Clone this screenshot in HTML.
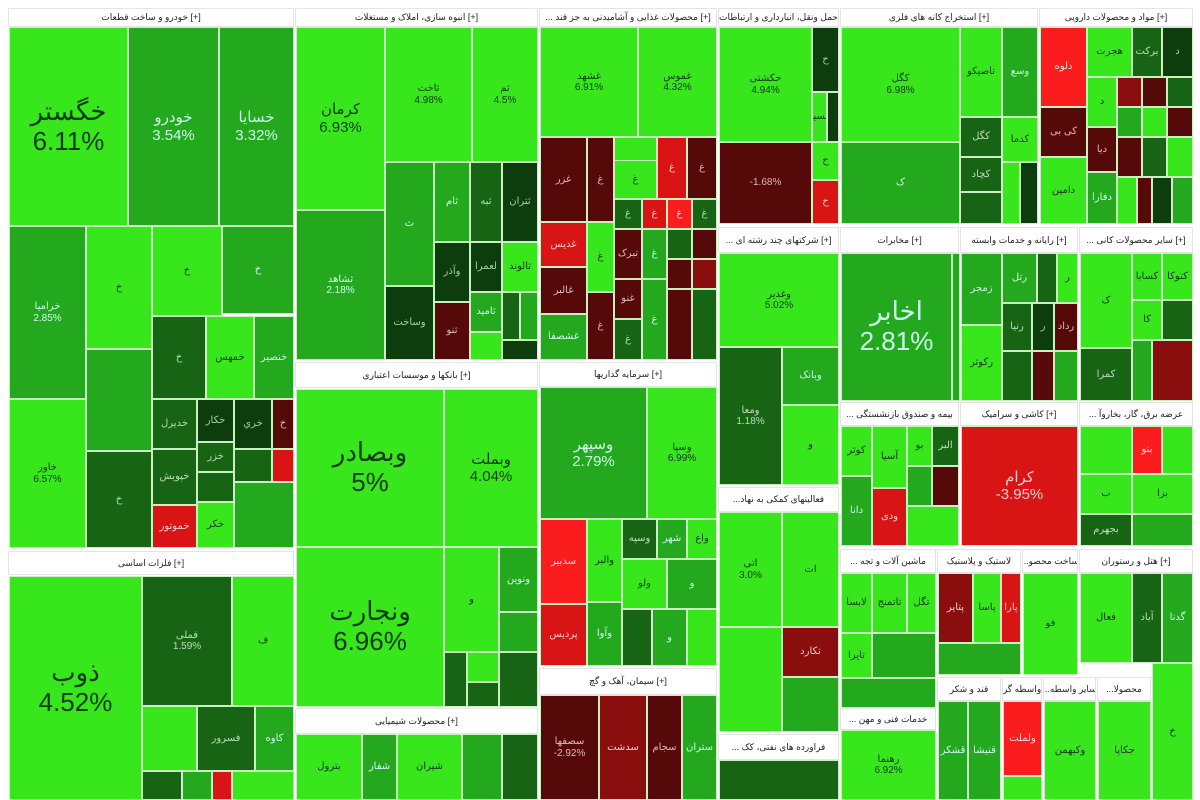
<!DOCTYPE html>
<html><head><meta charset="utf-8"><style>
body{margin:0;width:1200px;height:800px;overflow:hidden;background:#fff;position:relative;font-family:"Liberation Sans","DejaVu Sans",sans-serif}
div{position:absolute;box-sizing:border-box;border:1px solid #c8f0c0;display:flex;align-items:center;justify-content:center;text-align:center;overflow:hidden;font-size:10px;line-height:1.15;color:#0a3a0a}
.h{background:#fff;border:1px solid #e4e4e4;font-size:9px;color:#222;white-space:nowrap}
.b{background:#38e61c}.m{background:#24a81e;color:#cfe}.d{background:#176414;color:#bdb}.v{background:#0d3d0c;color:#aca}
.r{background:#d81414;color:#fcc}.R{background:#fb1d1d;color:#fdd}.x{background:#560909;color:#dbb}.y{background:#8a0e0e;color:#ecc}
.big{font-size:26px}.mid{font-size:15px}
</style></head><body>
<!-- Sector A -->
<div class="h" style="left:8px;top:8px;width:286px;height:19px">خودرو و ساخت قطعات [+]</div>
<div class="b big" style="left:9px;top:27px;width:119px;height:199px">خگستر<br>6.11%</div>
<div class="m mid" style="left:128px;top:27px;width:91px;height:199px">خودرو<br>3.54%</div>
<div class="m mid" style="left:219px;top:27px;width:75px;height:199px">خسایا<br>3.32%</div>
<div class="m" style="left:9px;top:226px;width:77px;height:173px">خرامیا<br>2.85%</div>
<div class="b" style="left:9px;top:399px;width:77px;height:149px">خاور<br>6.57%</div>
<div class="b" style="left:86px;top:226px;width:66px;height:123px">خ</div>
<div class="m" style="left:86px;top:349px;width:66px;height:102px"></div>
<div class="d" style="left:86px;top:451px;width:66px;height:97px">خ</div>
<div class="b" style="left:152px;top:226px;width:70px;height:90px">خ</div>
<div class="m" style="left:222px;top:226px;width:72px;height:88px">خ</div>
<div class="d" style="left:152px;top:316px;width:54px;height:83px">خ</div>
<div class="b" style="left:206px;top:316px;width:48px;height:83px">خمهس</div>
<div class="m" style="left:254px;top:316px;width:40px;height:83px">خنصير</div>
<div class="d" style="left:152px;top:399px;width:45px;height:50px">خديرل</div>
<div class="d" style="left:152px;top:449px;width:45px;height:56px">خپويش</div>
<div class="r" style="left:152px;top:505px;width:45px;height:43px">خموتور</div>
<div class="v" style="left:197px;top:399px;width:37px;height:43px">خكار</div>
<div class="d" style="left:197px;top:442px;width:37px;height:30px">خزر</div>
<div class="d" style="left:197px;top:472px;width:37px;height:30px"></div>
<div class="b" style="left:197px;top:502px;width:37px;height:46px">خكر</div>
<div class="v" style="left:234px;top:399px;width:38px;height:50px">خري</div>
<div class="x" style="left:272px;top:399px;width:22px;height:50px">خ</div>
<div class="d" style="left:234px;top:449px;width:38px;height:33px"></div>
<div class="r" style="left:272px;top:449px;width:22px;height:33px"></div>
<div class="m" style="left:234px;top:482px;width:60px;height:66px"></div>
<div class="h" style="left:8px;top:551px;width:286px;height:24px">فلزات اساسی [+]</div>
<div class="b big" style="left:9px;top:576px;width:133px;height:224px">ذوب<br>4.52%</div>
<div class="d" style="left:142px;top:576px;width:90px;height:130px">فملی<br>1.59%</div>
<div class="b" style="left:232px;top:576px;width:62px;height:130px">ف</div>
<div class="b" style="left:142px;top:706px;width:55px;height:65px"></div>
<div class="d" style="left:197px;top:706px;width:58px;height:65px">فسرور</div>
<div class="m" style="left:255px;top:706px;width:39px;height:65px">کاوه</div>
<div class="d" style="left:142px;top:771px;width:40px;height:29px"></div>
<div class="m" style="left:182px;top:771px;width:30px;height:29px"></div>
<div class="r" style="left:212px;top:771px;width:20px;height:29px"></div>
<div class="b" style="left:232px;top:771px;width:62px;height:29px"></div>
<!-- Sector B -->
<div class="h" style="left:295px;top:8px;width:243px;height:19px">انبوه سازی، املاک و مستغلات [+]</div>
<div class="b mid" style="left:296px;top:27px;width:89px;height:183px">کرمان<br>6.93%</div>
<div class="b" style="left:385px;top:27px;width:87px;height:135px">ثاخت<br>4.98%</div>
<div class="b" style="left:472px;top:27px;width:66px;height:135px">ثم<br>4.5%</div>
<div class="m" style="left:296px;top:210px;width:89px;height:150px">ثشاهد<br>2.18%</div>
<div class="m" style="left:385px;top:162px;width:49px;height:124px">ث</div>
<div class="v" style="left:385px;top:286px;width:49px;height:74px">وساخت</div>
<div class="m" style="left:434px;top:162px;width:36px;height:80px">ثام</div>
<div class="d" style="left:470px;top:162px;width:32px;height:80px">ثبه</div>
<div class="v" style="left:502px;top:162px;width:36px;height:80px">ثتران</div>
<div class="v" style="left:434px;top:242px;width:36px;height:60px">وآذر</div>
<div class="x" style="left:434px;top:302px;width:36px;height:58px">ثنو</div>
<div class="v" style="left:470px;top:242px;width:32px;height:50px">لعمرا</div>
<div class="m" style="left:470px;top:292px;width:32px;height:40px">ثامید</div>
<div class="b" style="left:470px;top:332px;width:32px;height:28px"></div>
<div class="b" style="left:502px;top:242px;width:36px;height:50px">ثالوند</div>
<div class="d" style="left:502px;top:292px;width:18px;height:48px"></div>
<div class="m" style="left:520px;top:292px;width:18px;height:48px"></div>
<div class="v" style="left:502px;top:340px;width:36px;height:20px"></div>
<div class="h" style="left:295px;top:362px;width:243px;height:26px">بانكها و موسسات اعتباری [+]</div>
<div class="b big" style="left:296px;top:389px;width:148px;height:158px">وبصادر<br>5%</div>
<div class="b mid" style="left:444px;top:389px;width:94px;height:158px">وبملت<br>4.04%</div>
<div class="b big" style="left:296px;top:547px;width:148px;height:160px">ونجارت<br>6.96%</div>
<div class="b" style="left:444px;top:547px;width:55px;height:105px">و</div>
<div class="m" style="left:499px;top:547px;width:39px;height:65px">ونوين</div>
<div class="m" style="left:499px;top:612px;width:39px;height:40px"></div>
<div class="d" style="left:444px;top:652px;width:23px;height:55px"></div>
<div class="b" style="left:467px;top:652px;width:32px;height:30px"></div>
<div class="d" style="left:467px;top:682px;width:32px;height:25px"></div>
<div class="d" style="left:499px;top:652px;width:39px;height:55px"></div>
<div class="h" style="left:295px;top:708px;width:243px;height:26px">محصولات شیمیایی [+]</div>
<div class="b" style="left:296px;top:734px;width:66px;height:66px">بترول</div>
<div class="m" style="left:362px;top:734px;width:35px;height:66px">شفار</div>
<div class="b" style="left:397px;top:734px;width:65px;height:66px">شيران</div>
<div class="m" style="left:462px;top:734px;width:40px;height:66px"></div>
<div class="d" style="left:502px;top:734px;width:36px;height:66px"></div>
<!-- Sector C -->
<div class="h" style="left:539px;top:8px;width:178px;height:19px">... محصولات غذایی و آشامیدنی به جز قند [+]</div>
<div class="b" style="left:540px;top:27px;width:98px;height:110px">غشهد<br>6.91%</div>
<div class="b" style="left:638px;top:27px;width:79px;height:110px">غموس<br>4.32%</div>
<div class="x" style="left:540px;top:137px;width:47px;height:85px">غزر</div>
<div class="r" style="left:540px;top:222px;width:47px;height:45px">غدیس</div>
<div class="x" style="left:540px;top:267px;width:47px;height:47px">غالبر</div>
<div class="m" style="left:540px;top:314px;width:47px;height:46px">غشصفا</div>
<div class="x" style="left:587px;top:137px;width:27px;height:85px">غ</div>
<div class="b" style="left:614px;top:137px;width:43px;height:62px">غبهنار</div>
<div class="r" style="left:657px;top:137px;width:30px;height:62px">غ</div>
<div class="x" style="left:687px;top:137px;width:30px;height:62px">غ</div>
<div class="b" style="left:614px;top:160px;width:43px;height:39px">غ</div>
<div class="d" style="left:614px;top:199px;width:28px;height:30px">غ</div>
<div class="r" style="left:642px;top:199px;width:25px;height:30px">غ</div>
<div class="R" style="left:667px;top:199px;width:25px;height:30px">غ</div>
<div class="d" style="left:692px;top:199px;width:25px;height:30px">غ</div>
<div class="b" style="left:587px;top:222px;width:27px;height:70px">غ</div>
<div class="x" style="left:614px;top:229px;width:28px;height:50px">تبرک</div>
<div class="m" style="left:642px;top:229px;width:25px;height:50px">غ</div>
<div class="d" style="left:667px;top:229px;width:25px;height:30px"></div>
<div class="x" style="left:692px;top:229px;width:25px;height:30px"></div>
<div class="x" style="left:667px;top:259px;width:25px;height:30px"></div>
<div class="y" style="left:692px;top:259px;width:25px;height:30px"></div>
<div class="x" style="left:587px;top:292px;width:27px;height:68px">غ</div>
<div class="x" style="left:614px;top:279px;width:28px;height:40px">غنو</div>
<div class="d" style="left:614px;top:319px;width:28px;height:41px">غ</div>
<div class="m" style="left:642px;top:279px;width:25px;height:81px">غ</div>
<div class="x" style="left:667px;top:289px;width:25px;height:71px"></div>
<div class="d" style="left:692px;top:289px;width:25px;height:71px"></div>
<div class="h" style="left:539px;top:362px;width:178px;height:25px">سرمایه گذاریها [+]</div>
<div class="m mid" style="left:540px;top:387px;width:107px;height:132px">وسپهر<br>2.79%</div>
<div class="b" style="left:647px;top:387px;width:70px;height:132px">وسپا<br>6.99%</div>
<div class="R" style="left:540px;top:519px;width:47px;height:85px">سدبیر</div>
<div class="r" style="left:540px;top:604px;width:47px;height:62px">پردیس</div>
<div class="b" style="left:587px;top:519px;width:35px;height:83px">والبر</div>
<div class="d" style="left:622px;top:519px;width:35px;height:40px">وسپه</div>
<div class="m" style="left:657px;top:519px;width:30px;height:40px">شهر</div>
<div class="b" style="left:687px;top:519px;width:30px;height:40px">واع</div>
<div class="b" style="left:622px;top:559px;width:45px;height:50px">ولو</div>
<div class="m" style="left:667px;top:559px;width:50px;height:50px">و</div>
<div class="m" style="left:587px;top:602px;width:35px;height:64px">وآوا</div>
<div class="d" style="left:622px;top:609px;width:30px;height:57px"></div>
<div class="m" style="left:652px;top:609px;width:35px;height:57px">و</div>
<div class="b" style="left:687px;top:609px;width:30px;height:57px"></div>
<div class="h" style="left:539px;top:668px;width:178px;height:27px">سیمان، آهک و گچ [+]</div>
<div class="x" style="left:540px;top:695px;width:59px;height:105px">سصفها<br>-2.92%</div>
<div class="y" style="left:599px;top:695px;width:48px;height:105px">سدشت</div>
<div class="x" style="left:647px;top:695px;width:35px;height:105px">سجام</div>
<div class="m" style="left:682px;top:695px;width:35px;height:105px">ستران</div>
<!-- Sector D -->
<div class="h" style="left:718px;top:8px;width:121px;height:19px">حمل ونقل، انبارداری و ارتباطات</div>
<div class="b" style="left:719px;top:27px;width:93px;height:115px">حکشتی<br>4.94%</div>
<div class="v" style="left:812px;top:27px;width:27px;height:65px">ح</div>
<div class="b" style="left:812px;top:92px;width:15px;height:50px">حسینا</div>
<div class="v" style="left:827px;top:92px;width:12px;height:50px"></div>
<div class="x" style="left:719px;top:142px;width:93px;height:82px">-1.68%</div>
<div class="b" style="left:812px;top:142px;width:27px;height:38px">ح</div>
<div class="r" style="left:812px;top:180px;width:27px;height:44px">ح</div>
<div class="h" style="left:718px;top:227px;width:121px;height:26px">... شرکتهای چند رشته ای [+]</div>
<div class="b" style="left:719px;top:253px;width:120px;height:94px">وغدير<br>5.02%</div>
<div class="d" style="left:719px;top:347px;width:63px;height:138px">ومعا<br>1.18%</div>
<div class="m" style="left:782px;top:347px;width:57px;height:58px">وبانک</div>
<div class="b" style="left:782px;top:405px;width:57px;height:80px">و</div>
<div class="h" style="left:718px;top:487px;width:121px;height:25px">...فعالیتهای کمکی به نهاد</div>
<div class="b" style="left:719px;top:512px;width:63px;height:115px">اتی<br>3.0%</div>
<div class="b" style="left:782px;top:512px;width:57px;height:115px">ات</div>
<div class="b" style="left:719px;top:627px;width:63px;height:105px"></div>
<div class="y" style="left:782px;top:627px;width:57px;height:50px">تکارد</div>
<div class="m" style="left:782px;top:677px;width:57px;height:55px"></div>
<div class="h" style="left:718px;top:734px;width:121px;height:26px">... فراورده های نفتی، کک</div>
<div class="d" style="left:719px;top:760px;width:120px;height:40px"></div>
<!-- Sector E -->
<div class="h" style="left:840px;top:8px;width:198px;height:19px">استخراج کانه های فلزی [+]</div>
<div class="b" style="left:841px;top:27px;width:119px;height:115px">کگل<br>6.98%</div>
<div class="b" style="left:960px;top:27px;width:42px;height:90px">تاصیکو</div>
<div class="m" style="left:1002px;top:27px;width:36px;height:90px">وسع</div>
<div class="m" style="left:841px;top:142px;width:119px;height:82px">ک</div>
<div class="d" style="left:960px;top:117px;width:42px;height:40px">کگل</div>
<div class="d" style="left:960px;top:157px;width:42px;height:35px">کچاد</div>
<div class="d" style="left:960px;top:192px;width:42px;height:32px"></div>
<div class="b" style="left:1002px;top:117px;width:36px;height:45px">کدما</div>
<div class="b" style="left:1002px;top:162px;width:18px;height:62px"></div>
<div class="v" style="left:1020px;top:162px;width:18px;height:62px"></div>
<!-- Sector F -->
<div class="h" style="left:1039px;top:8px;width:154px;height:19px">مواد و محصولات دارویی [+]</div>
<div class="R" style="left:1040px;top:27px;width:47px;height:80px">دلوه</div>
<div class="x" style="left:1040px;top:107px;width:47px;height:50px">کی بی</div>
<div class="b" style="left:1040px;top:157px;width:47px;height:67px">دامین</div>
<div class="b" style="left:1087px;top:27px;width:45px;height:50px">هجرت</div>
<div class="d" style="left:1132px;top:27px;width:30px;height:50px">برکت</div>
<div class="v" style="left:1162px;top:27px;width:31px;height:50px">د</div>
<div class="b" style="left:1087px;top:77px;width:30px;height:50px">د</div>
<div class="y" style="left:1117px;top:77px;width:25px;height:30px"></div>
<div class="x" style="left:1142px;top:77px;width:25px;height:30px"></div>
<div class="d" style="left:1167px;top:77px;width:26px;height:30px"></div>
<div class="x" style="left:1087px;top:127px;width:30px;height:45px">دیا</div>
<div class="m" style="left:1117px;top:107px;width:25px;height:30px"></div>
<div class="b" style="left:1142px;top:107px;width:25px;height:30px"></div>
<div class="x" style="left:1167px;top:107px;width:26px;height:30px"></div>
<div class="m" style="left:1087px;top:172px;width:30px;height:52px">دفارا</div>
<div class="x" style="left:1117px;top:137px;width:25px;height:40px"></div>
<div class="d" style="left:1142px;top:137px;width:25px;height:40px"></div>
<div class="b" style="left:1167px;top:137px;width:26px;height:40px"></div>
<div class="b" style="left:1117px;top:177px;width:20px;height:47px"></div>
<div class="x" style="left:1137px;top:177px;width:15px;height:47px"></div>
<div class="v" style="left:1152px;top:177px;width:20px;height:47px"></div>
<div class="m" style="left:1172px;top:177px;width:21px;height:47px"></div>
<!-- Row 2 right -->
<div class="h" style="left:840px;top:227px;width:119px;height:26px">مخابرات [+]</div>
<div class="m big" style="left:841px;top:253px;width:111px;height:148px">اخابر<br>2.81%</div>
<div class="m" style="left:952px;top:253px;width:8px;height:148px"></div>
<div class="h" style="left:960px;top:227px;width:118px;height:26px">رایانه و خدمات وابسته [+]</div>
<div class="m" style="left:961px;top:253px;width:41px;height:72px">زمجر</div>
<div class="b" style="left:961px;top:325px;width:41px;height:76px">رکوثر</div>
<div class="m" style="left:1002px;top:253px;width:35px;height:50px">رتل</div>
<div class="d" style="left:1037px;top:253px;width:20px;height:50px"></div>
<div class="b" style="left:1057px;top:253px;width:21px;height:50px">ر</div>
<div class="d" style="left:1002px;top:303px;width:30px;height:48px">رنیا</div>
<div class="v" style="left:1032px;top:303px;width:22px;height:48px">ر</div>
<div class="x" style="left:1054px;top:303px;width:24px;height:48px">رداد</div>
<div class="d" style="left:1002px;top:351px;width:30px;height:50px"></div>
<div class="x" style="left:1032px;top:351px;width:22px;height:50px"></div>
<div class="m" style="left:1054px;top:351px;width:24px;height:50px"></div>
<div class="h" style="left:1079px;top:227px;width:114px;height:26px">... سایر محصولات کانی [+]</div>
<div class="b" style="left:1080px;top:253px;width:52px;height:95px">ک</div>
<div class="d" style="left:1080px;top:348px;width:52px;height:53px">کمرا</div>
<div class="b" style="left:1132px;top:253px;width:30px;height:47px">کسابا</div>
<div class="b" style="left:1162px;top:253px;width:31px;height:47px">کتوکا</div>
<div class="b" style="left:1132px;top:300px;width:30px;height:40px">کا</div>
<div class="d" style="left:1162px;top:300px;width:31px;height:40px"></div>
<div class="m" style="left:1132px;top:340px;width:20px;height:61px"></div>
<div class="y" style="left:1152px;top:340px;width:41px;height:61px"></div>
<!-- Row 3 -->
<div class="h" style="left:840px;top:402px;width:119px;height:24px">... بیمه و صندوق بازنشستگی</div>
<div class="b" style="left:841px;top:426px;width:31px;height:50px">کوثر</div>
<div class="m" style="left:841px;top:476px;width:31px;height:70px">دانا</div>
<div class="b" style="left:872px;top:426px;width:35px;height:62px">آسیا</div>
<div class="r" style="left:872px;top:488px;width:35px;height:58px">ودی</div>
<div class="b" style="left:907px;top:426px;width:25px;height:40px">بو</div>
<div class="d" style="left:932px;top:426px;width:27px;height:40px">البر</div>
<div class="m" style="left:907px;top:466px;width:25px;height:40px"></div>
<div class="x" style="left:932px;top:466px;width:27px;height:40px"></div>
<div class="b" style="left:907px;top:506px;width:52px;height:40px"></div>
<div class="h" style="left:960px;top:402px;width:118px;height:24px">کاشی و سرامیک [+]</div>
<div class="r mid" style="left:961px;top:426px;width:117px;height:120px">کرام<br>-3.95%</div>
<div class="h" style="left:1079px;top:402px;width:114px;height:24px">... عرضه برق، گاز، بخاروآ</div>
<div class="b" style="left:1080px;top:426px;width:52px;height:48px"></div>
<div class="R" style="left:1132px;top:426px;width:30px;height:48px">بنو</div>
<div class="b" style="left:1162px;top:426px;width:31px;height:48px"></div>
<div class="b" style="left:1080px;top:474px;width:52px;height:40px">ب</div>
<div class="b" style="left:1132px;top:474px;width:61px;height:40px">بزا</div>
<div class="d" style="left:1080px;top:514px;width:52px;height:32px">بجهرم</div>
<div class="m" style="left:1132px;top:514px;width:61px;height:32px"></div>
<!-- Row 4 -->
<div class="h" style="left:840px;top:549px;width:96px;height:24px">... ماشین آلات و تجه</div>
<div class="b" style="left:841px;top:573px;width:31px;height:60px">لابسا</div>
<div class="b" style="left:872px;top:573px;width:35px;height:60px">تاتمنج</div>
<div class="b" style="left:907px;top:573px;width:29px;height:60px">تگل</div>
<div class="b" style="left:841px;top:633px;width:31px;height:45px">تایرا</div>
<div class="m" style="left:872px;top:633px;width:64px;height:45px"></div>
<div class="h" style="left:937px;top:549px;width:84px;height:24px">لاستیک و پلاستیک</div>
<div class="y" style="left:938px;top:573px;width:35px;height:70px">پتایر</div>
<div class="b" style="left:973px;top:573px;width:28px;height:70px">پاسا</div>
<div class="r" style="left:1001px;top:573px;width:20px;height:70px">پارا</div>
<div class="m" style="left:938px;top:643px;width:83px;height:32px"></div>
<div class="h" style="left:1022px;top:549px;width:56px;height:24px">...ساخت محصو</div>
<div class="b" style="left:1023px;top:573px;width:55px;height:102px">فو</div>
<div class="h" style="left:1079px;top:549px;width:114px;height:24px">هتل و رستوران [+]</div>
<div class="b" style="left:1080px;top:573px;width:52px;height:90px">فعال</div>
<div class="d" style="left:1132px;top:573px;width:30px;height:90px">آباد</div>
<div class="m" style="left:1162px;top:573px;width:31px;height:90px">گدنا</div>
<!-- Row 5 -->
<div class="m" style="left:841px;top:678px;width:95px;height:30px"></div>
<div class="h" style="left:840px;top:708px;width:96px;height:22px">... خدمات فنی و مهن</div>
<div class="b" style="left:841px;top:730px;width:95px;height:70px">رهنما<br>6.92%</div>
<div class="h" style="left:937px;top:677px;width:64px;height:24px">قند و شکر</div>
<div class="m" style="left:938px;top:701px;width:30px;height:99px">قشکر</div>
<div class="m" style="left:968px;top:701px;width:33px;height:99px">قنیشا</div>
<div class="h" style="left:1002px;top:677px;width:40px;height:24px">واسطه گر</div>
<div class="R" style="left:1003px;top:701px;width:39px;height:75px">ولملت</div>
<div class="b" style="left:1003px;top:776px;width:39px;height:24px"></div>
<div class="h" style="left:1043px;top:677px;width:53px;height:24px">...سایر واسطه</div>
<div class="b" style="left:1044px;top:701px;width:52px;height:99px">وکبهمن</div>
<div class="h" style="left:1097px;top:677px;width:54px;height:24px">...محصولا</div>
<div class="b" style="left:1098px;top:701px;width:53px;height:99px">جکاپا</div>
<div class="b" style="left:1152px;top:663px;width:41px;height:137px">خ</div>
</body></html>
